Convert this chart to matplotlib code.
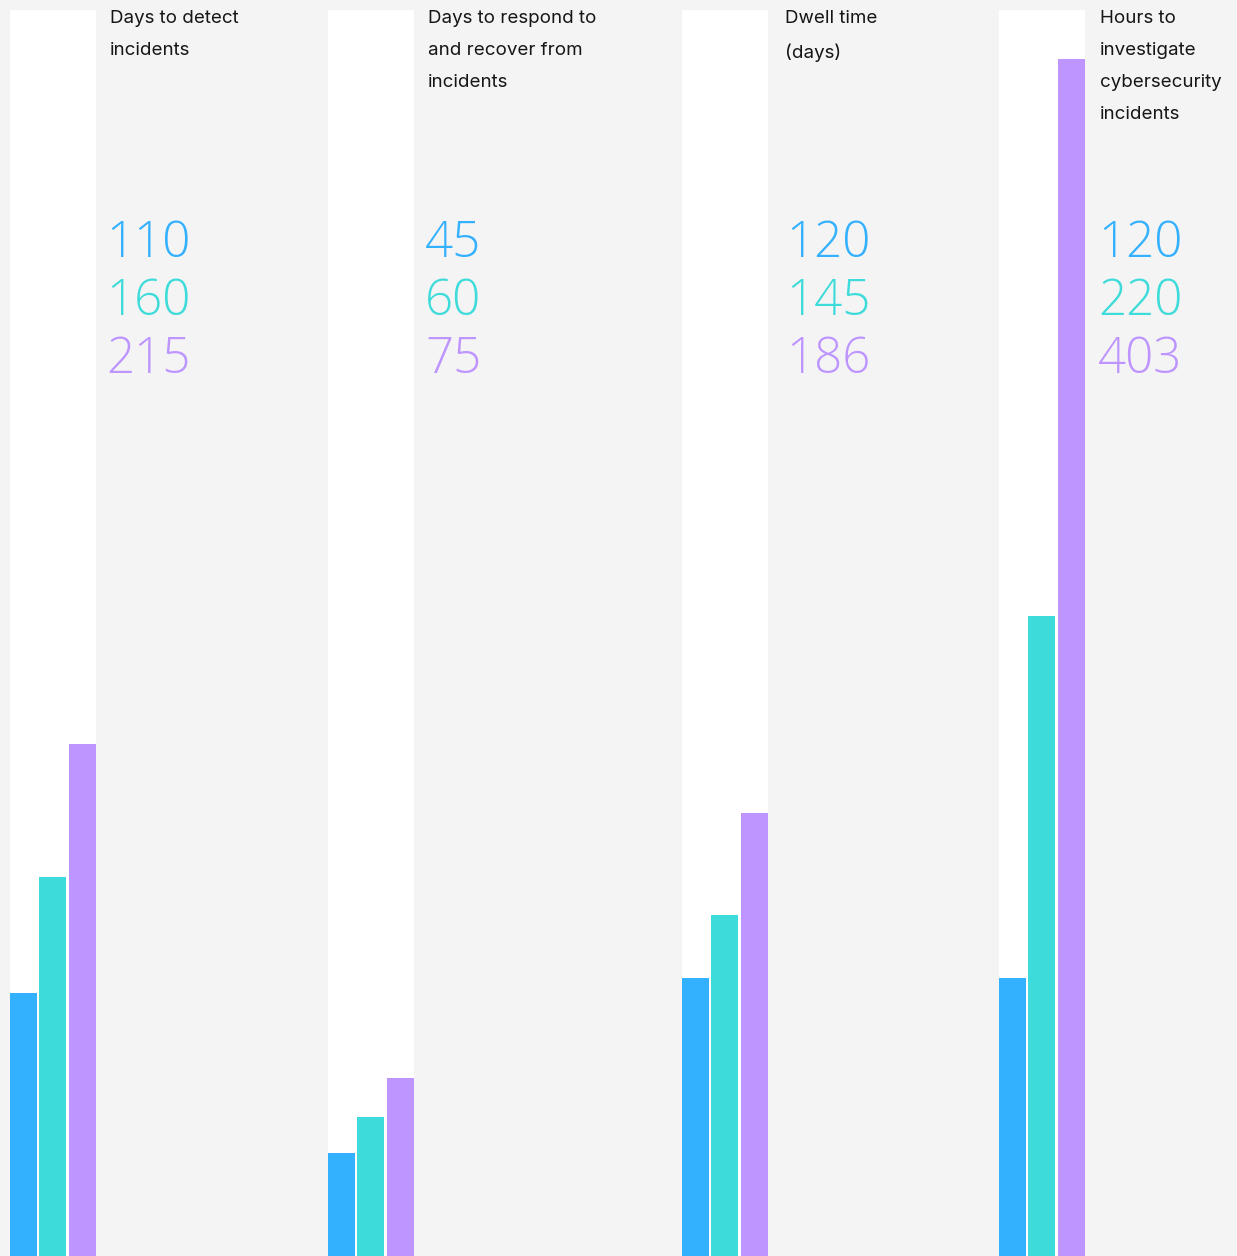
import matplotlib
matplotlib.use("Agg")
import matplotlib.pyplot as plt

# ---- data ----
titles = [
    "Days to detect\nincidents",
    "Days to respond to\nand recover from\nincidents",
    "Dwell time\n(days)",
    "Hours to\ninvestigate\ncybersecurity\nincidents",
]
label_values = [
    [110, 160, 215],
    [45, 60, 75],
    [120, 145, 186],
    [120, 220, 403],
]
# bar heights as drawn in the picture (same vertical scale for all panels)
bar_values = [
    [111, 160, 216],
    [43.5, 58.6, 75.1],
    [117.3, 143.9, 186.9],
    [117.3, 270, 505],
]
colors = ["#33b1ff", "#3ddbd9", "#be95ff"]
bg = "#f4f4f4"

# ---- layout ----
W, H = 1237, 1256
px_per_unit = 2.37
col_left = [10, 328, 682, 999]
col_width = 85.6
col_top_px = 1246
text_x = [110, 428, 785, 1100]
num_x = [106, 425, 786, 1098]

fig = plt.figure(figsize=(W / 100, H / 100), dpi=100)
fig.patch.set_facecolor(bg)

ymax = H / px_per_unit
col_top = col_top_px / px_per_unit

for p in range(4):
    ax = fig.add_axes([col_left[p] / W, 0, col_width / W, 1])
    ax.set_facecolor("none")
    ax.set_xlim(-0.46, 2.46)
    ax.set_ylim(0, ymax)
    ax.axis("off")
    ax.bar([1], [col_top], width=2.92, color="white", edgecolor="none", zorder=1)
    ax.bar(range(3), bar_values[p], width=0.92, color=colors, edgecolor="none", zorder=2)

    fig.text(text_x[p] / W, 1 - 10 / H, titles[p], ha="left", va="top",
             fontsize=13.5, family=["Inter", "DejaVu Sans"], color="#161616",
             linespacing=2.16)
    for i in range(3):
        yb = 256.7 + 58 * i
        fig.text(num_x[p] / W, 1 - yb / H, str(label_values[p][i]), ha="left",
                 va="baseline", fontsize=35.5, family=["Open Sans", "DejaVu Sans"],
                 fontweight="light", color=colors[i])

fig.savefig("out.png", dpi=100, facecolor=bg)
